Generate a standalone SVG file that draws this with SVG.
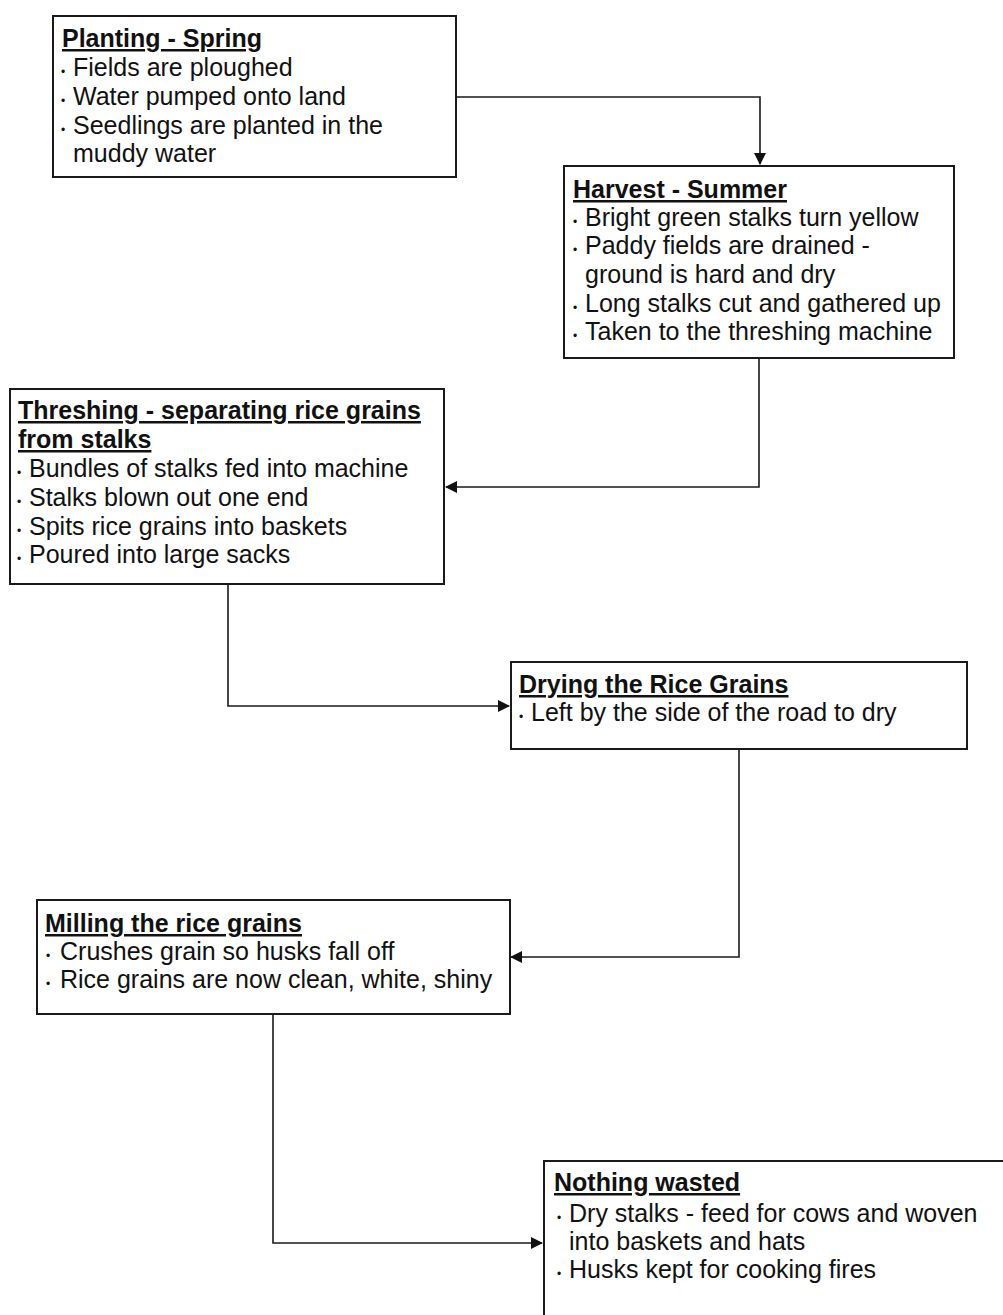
<svg xmlns="http://www.w3.org/2000/svg" width="1003" height="1315" viewBox="0 0 1003 1315">
<style>
.box{fill:#fff;stroke:#1a1a1a;stroke-width:2}
text{font-family:"Liberation Sans",Arial,sans-serif;font-size:25px;fill:#111}
.t{font-weight:bold;text-decoration:underline}
.b{font-size:12px}
.c{fill:none;stroke:#1a1a1a;stroke-width:1.6}
</style>
<defs>
<marker id="ah" markerWidth="12" markerHeight="12" refX="11" refY="6" orient="auto" markerUnits="userSpaceOnUse">
<path d="M0,0 L12,6 L0,12 Z" fill="#111"/>
</marker>
</defs>
<rect width="1003" height="1315" fill="#fff"/>
<g id="connectors">
<path class="c" d="M456,97 H760 V164" marker-end="url(#ah)"/>
<path class="c" d="M759,358 V487 H446" marker-end="url(#ah)"/>
<path class="c" d="M228,584 V706 H509" marker-end="url(#ah)"/>
<path class="c" d="M739,749 V957 H511" marker-end="url(#ah)"/>
<path class="c" d="M273,1014 V1243 H542" marker-end="url(#ah)"/>
</g>
<g id="planting">
<rect class="box" x="53" y="16" width="403" height="161"/>
<text class="t" x="62" y="47">Planting - Spring</text>
<text class="b" x="61" y="76">•</text><text x="73" y="76">Fields are ploughed</text>
<text class="b" x="61" y="105">•</text><text x="73" y="105">Water pumped onto land</text>
<text class="b" x="61" y="134">•</text><text x="73" y="134">Seedlings are planted in the</text>
<text x="73" y="162">muddy water</text>
</g>
<g id="harvest">
<rect class="box" x="564" y="166" width="390" height="192"/>
<text class="t" x="573" y="198">Harvest - Summer</text>
<text class="b" x="573" y="226">•</text><text x="585" y="226">Bright green stalks turn yellow</text>
<text class="b" x="573" y="254">•</text><text x="585" y="254">Paddy fields are drained -</text>
<text x="585" y="283">ground is hard and dry</text>
<text class="b" x="573" y="312">•</text><text x="585" y="312">Long stalks cut and gathered up</text>
<text class="b" x="573" y="340">•</text><text x="585" y="340">Taken to the threshing machine</text>
</g>
<g id="threshing">
<rect class="box" x="10" y="389" width="434" height="195"/>
<text class="t" x="18" y="419">Threshing - separating rice grains</text>
<text class="t" x="18" y="448">from stalks</text>
<text class="b" x="17" y="477">•</text><text x="29" y="477">Bundles of stalks fed into machine</text>
<text class="b" x="17" y="506">•</text><text x="29" y="506">Stalks blown out one end</text>
<text class="b" x="17" y="535">•</text><text x="29" y="535">Spits rice grains into baskets</text>
<text class="b" x="17" y="563">•</text><text x="29" y="563">Poured into large sacks</text>
</g>
<g id="drying">
<rect class="box" x="511" y="662" width="456" height="87"/>
<text class="t" x="519" y="693">Drying the Rice Grains</text>
<text class="b" x="519" y="721">•</text><text x="531" y="721">Left by the side of the road to dry</text>
</g>
<g id="milling">
<rect class="box" x="37" y="900" width="473" height="114"/>
<text class="t" x="45" y="932">Milling the rice grains</text>
<text class="b" x="46" y="960">•</text><text x="60" y="960">Crushes grain so husks fall off</text>
<text class="b" x="46" y="988">•</text><text x="60" y="988">Rice grains are now clean, white, shiny</text>
</g>
<g id="nothing">
<rect class="box" x="544" y="1161" width="480" height="180"/>
<text class="t" x="554" y="1191">Nothing wasted</text>
<text class="b" x="557" y="1222">•</text><text x="569" y="1222">Dry stalks - feed for cows and woven</text>
<text x="569" y="1250">into baskets and hats</text>
<text class="b" x="557" y="1278">•</text><text x="569" y="1278">Husks kept for cooking fires</text>
</g>
</svg>
